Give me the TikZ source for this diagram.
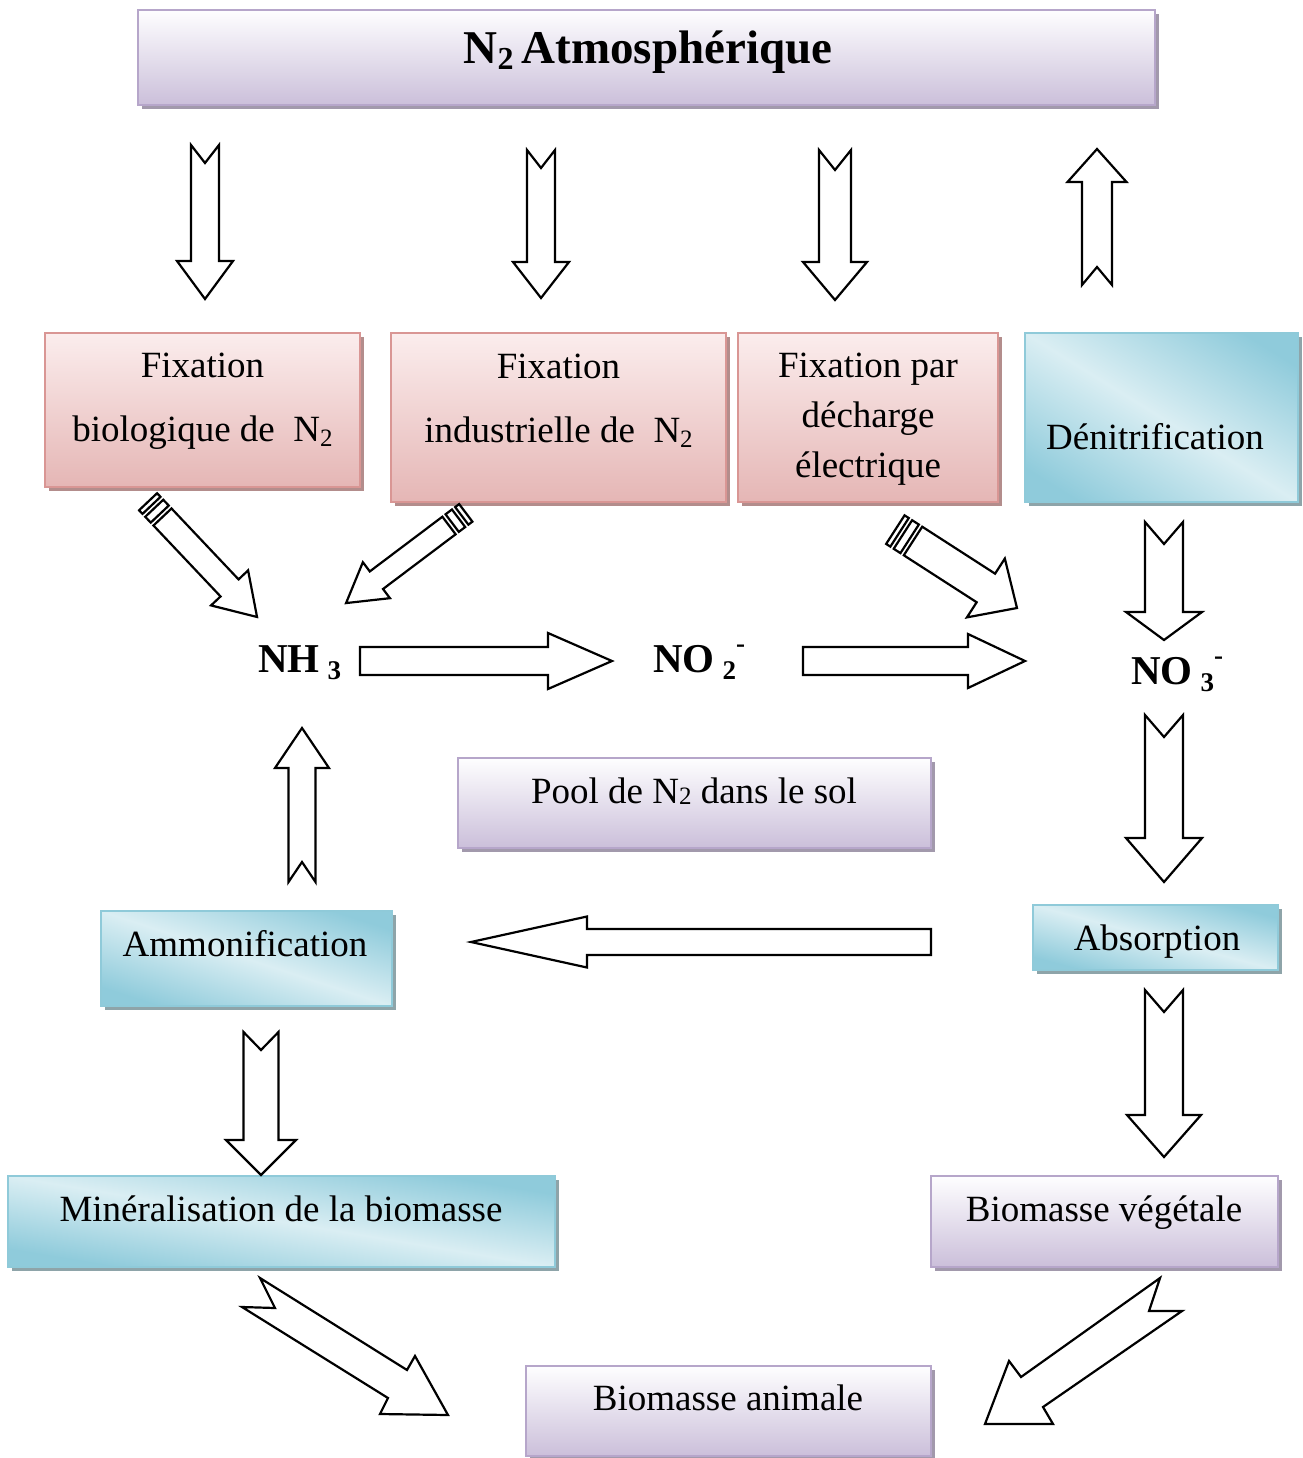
\documentclass[tikz,border=0pt]{standalone}
\usepackage{fontspec}
\setmainfont{Liberation Serif}
\usetikzlibrary{shadows}
\definecolor{lavtop}{HTML}{FEFEFF}
\definecolor{lavbot}{HTML}{CBBFDA}
\definecolor{lavdraw}{HTML}{B6A6CA}
\definecolor{lavshadow}{HTML}{A299AC}
\definecolor{pinktop}{HTML}{FBEDED}
\definecolor{pinkbot}{HTML}{E5B6B5}
\definecolor{pinkdraw}{HTML}{D99694}
\definecolor{pinkshadow}{HTML}{B38D8C}
\definecolor{bluedark}{HTML}{8FCBDB}
\definecolor{bluelight}{HTML}{DAEEF3}
\definecolor{bluedraw}{HTML}{8FCAD9}
\definecolor{blueshadow}{HTML}{8EA4A9}
\newcommand\nsub[1]{\raisebox{-5pt}{\fontsize{25}{25}\selectfont #1}}
\newcommand\bsub[1]{\raisebox{-7pt}{\fontsize{27}{27}\selectfont\bfseries #1}}
\newcommand\bsup[1]{\raisebox{20pt}{\fontsize{27}{27}\selectfont\bfseries #1}}
\newcommand\barrow[8]{%
 \begin{scope}[shift={(#1,#2)},rotate=#3]
 \draw[blk] (0,#5) -- ({#4-#7},#5) -- ({#4-#7},#6) -- (#4,0) -- ({#4-#7},-#6) -- ({#4-#7},-#5) -- (0,-#5) -- (#8,0) -- cycle;
 \end{scope}}
\newcommand\sarrow[7]{%
 \begin{scope}[shift={(#1,#2)},rotate=#3]
 \draw[blk] (0,#5) -- ({#4-#7},#5) -- ({#4-#7},#6) -- (#4,0) -- ({#4-#7},-#6) -- ({#4-#7},-#5) -- (0,-#5) -- cycle;
 \draw[blk] (-4,-#5) rectangle (-12,#5);
 \draw[blk] (-16,-#5) rectangle (-21,#5);
 \end{scope}}
\tikzset{
 every node/.style={font=\fontsize{37}{44}\selectfont, inner sep=0pt},
 blk/.style={draw=black, line width=2.2pt, fill=white, line join=miter},
 lavbox/.style={rectangle, draw=lavdraw, line width=2pt, top color=lavtop, bottom color=lavbot,
   general shadow={fill=lavshadow, shadow xshift=4pt, shadow yshift=-4pt}},
 pinkbox/.style={rectangle, draw=pinkdraw, line width=2pt, top color=pinktop, bottom color=pinkbot,
   general shadow={fill=pinkshadow, shadow xshift=4pt, shadow yshift=-4pt}},
 bluebox/.style n args={2}{rectangle, draw=bluedraw, line width=2pt,
   minimum width=#1pt, minimum height=#2pt,
   general shadow={fill=blueshadow, shadow xshift=4pt, shadow yshift=-4pt},
   path picture={%
     \pgfmathsetmacro\bang{atan2(#1,#2)}%
     \pgfmathsetmacro\bhalf{0.8*#1/veclen(#1,#2)*#2}%
     \fill[bluedark] ([shift={(-20,-20)}]path picture bounding box.north west) rectangle
       ([shift={(20,20)}]path picture bounding box.south east);
     \shade[transform canvas={rotate around={\bang:(path picture bounding box.center)}},
        left color=bluedark, right color=bluedark, middle color=bluelight]
       ([shift={(-\bhalf,-400)}]path picture bounding box.center) rectangle
       ([shift={(\bhalf,400)}]path picture bounding box.center);
   }},
 txt/.style={align=center, text height=32pt, text depth=8pt},
 txtm/.style={align=center},
 chem/.style={font=\fontsize{41}{44}\selectfont\bfseries, anchor=base west},
}
\begin{document}
\begin{tikzpicture}[x=1pt,y=-1pt]
\fill[white] (0,0) rectangle (1302,1458);
\useasboundingbox (0,0) rectangle (1302,1458);

% boxes
\node[lavbox, minimum width=1017pt, minimum height=95pt] (atm) at (646.5,57.5) {};
\node[txtm, font=\fontsize{47}{56}\selectfont\bfseries] (atmt) at (648,52) {N\raisebox{-6pt}{\fontsize{32}{32}\selectfont 2}\,Atmosphérique};

\node[pinkbox, minimum width=315pt, minimum height=154pt] (fb) at (202.5,410) {};
\node[txtm, font=\fontsize{37}{64}\selectfont] (fbt) at (202.5,401) {Fixation\\biologique de\ \ N\nsub{2}};

\node[pinkbox, minimum width=335pt, minimum height=169pt] (fi) at (558.5,417.5) {};
\node[txtm, font=\fontsize{37}{64}\selectfont] (fit) at (558.5,401) {Fixation\\industrielle de\ \ N\nsub{2}};

\node[pinkbox, minimum width=260pt, minimum height=169pt] (fe) at (868,417.5) {};
\node[txtm, font=\fontsize{37}{50}\selectfont] (fet) at (868,419) {Fixation par\\décharge\\électrique};

\node[bluebox={273}{169}] (den) at (1161.5,417.5) {};
\node[txt] (dent) at (1155,437) {Dénitrification};

\node[lavbox, minimum width=473pt, minimum height=90pt] (pool) at (694.5,803) {};
\node[txt] (poolt) at (694,791) {Pool de N\raisebox{-1pt}{\fontsize{25}{25}\selectfont 2} dans le sol};

\node[bluebox={291}{95}] (amm) at (246.5,958.5) {};
\node[txt] (ammt) at (245,944) {Ammonification};

\node[bluebox={245}{65}] (abs) at (1155.5,937.5) {};
\node[txt] (abst) at (1157,938) {Absorption};

\node[bluebox={547}{91}] (min) at (281.5,1221.5) {};
\node[txt] (mint) at (281,1209) {Minéralisation de la biomasse};

\node[lavbox, minimum width=347pt, minimum height=91pt] (bveg) at (1104.5,1221.5) {};
\node[txt] (bvegt) at (1104,1209) {Biomasse végétale};

\node[lavbox, minimum width=405pt, minimum height=90pt] (banim) at (728.5,1411) {};
\node[txt] (banimt) at (728,1398) {Biomasse animale};

% chemical species
\node[chem] (nh3) at (258,672) {NH\hspace{8pt}\bsub{3}};
\node[chem] (no2) at (653,672) {NO\hspace{8pt}\bsub{2}\bsup{-}};
\node[chem] (no3) at (1131,684) {NO\hspace{8pt}\bsub{3}\bsup{-}};

% vertical block arrows
\barrow{205}{145}{-90}{154}{14}{28}{38}{18}
\barrow{541}{150}{-90}{148}{14}{28}{36}{18}
\barrow{835}{150}{-90}{150}{16}{32}{38}{20}
\barrow{1097}{285}{90}{136}{15}{29.5}{33}{18}
\barrow{1164}{522}{-90}{118}{19}{38}{28}{22}
\barrow{1164}{715}{-90}{167}{19}{38}{44}{22}
\barrow{1164}{990}{-90}{167}{19}{37}{42}{22}
\barrow{261}{1032}{-90}{143}{17.5}{35}{35}{18}
\barrow{302}{882}{90}{154}{13.5}{27}{40}{20}
% horizontal block arrows
\barrow{360}{661}{0}{252}{14}{28}{64}{0}
\barrow{803}{661}{0}{222}{14}{27}{57}{0}
\barrow{931}{942}{180}{460}{13}{25.5}{116}{0}
% striped arrows
\sarrow{162.5}{517}{-46.6}{137.6}{12.4}{25.5}{40}
\sarrow{449}{525.5}{-143}{128.9}{11}{22.5}{38}
\sarrow{913}{541}{-32.8}{123.7}{17}{35}{37}
% bottom diagonal arrows
\draw[blk] (260,1278) -- (407,1370) -- (415,1356) -- (448,1415) -- (380,1414) -- (388,1398) -- (242,1307) -- (275,1308) -- cycle;
\draw[blk] (1160,1278) -- (1021,1377) -- (1009,1361) -- (985,1424) -- (1053,1424) -- (1043,1407) -- (1182,1311) -- (1149,1311) -- cycle;
\end{tikzpicture}
\end{document}
